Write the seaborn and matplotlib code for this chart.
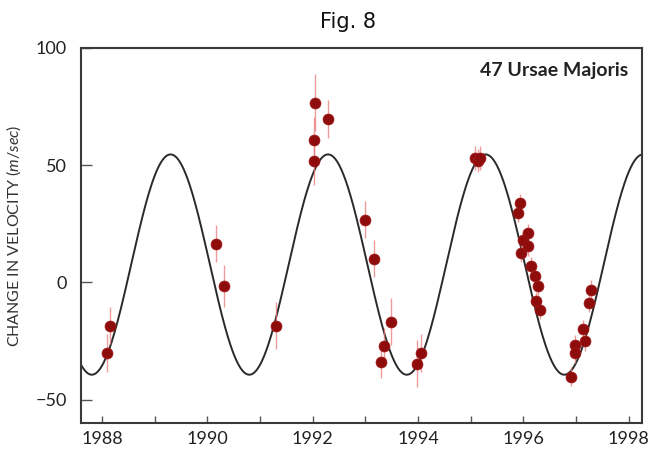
import numpy as np
import pandas as pd
import matplotlib
matplotlib.use("Agg")
import matplotlib.pyplot as plt
import seaborn as sns
from matplotlib.ticker import MultipleLocator

# ---- data ----
years = [1988.10, 1988.15, 1990.16, 1990.31, 1991.30,
         1992.04, 1992.02, 1992.02, 1992.29, 1992.99,
         1993.17, 1993.30, 1993.36, 1993.49, 1993.97, 1994.06,
         1995.08, 1995.13, 1995.18,
         1995.89, 1995.93, 1995.96, 1995.99, 1996.08, 1996.08,
         1996.15, 1996.21, 1996.24, 1996.27, 1996.31,
         1996.91, 1996.97, 1996.97, 1997.13, 1997.16, 1997.24, 1997.29]
velocity = [-30.2, -18.5, 16.5, -1.7, -18.5,
            76.7, 60.7, 51.7, 69.8, 26.8,
            10.1, -33.8, -27.3, -16.7, -34.7, -30.2,
            53.0, 52.0, 53.0,
            29.7, 33.9, 12.6, 18.2, 21.1, 15.4,
            6.8, 2.6, -8.1, -1.7, -11.7,
            -40.2, -26.6, -30.2, -19.9, -25.2, -8.8, -3.1]
errors = [8, 8, 8, 9, 10,
          12, 10, 10, 8, 8,
          8, 7, 8, 10, 10, 8,
          5, 5, 5,
          4, 4, 4, 4, 4, 4,
          4, 4, 4, 4, 4,
          4, 4, 4, 4, 4, 4, 4]

# orbital fit
fit_period = 2.99       # years
fit_amplitude = 47.0    # m/s
fit_offset = 7.6        # m/s
fit_peak_epoch = 1989.30

x_ticks = [1988, 1990, 1992, 1994, 1996, 1998]
y_ticks = [-50, 0, 50, 100]

# ---- build tables ----
df = pd.DataFrame({"year": years, "v": velocity, "err": errors})
t = np.linspace(1987.6, 1998.25, 800)
curve = pd.DataFrame({
    "year": t,
    "v": fit_offset + fit_amplitude * np.cos(2 * np.pi * (t - fit_peak_epoch) / fit_period),
})

sns.set_theme(style="white")
plt.rcParams["font.family"] = ["Lato", "DejaVu Sans"]
plt.rcParams["mathtext.fontset"] = "custom"
plt.rcParams["mathtext.rm"] = "Lato"
plt.rcParams["mathtext.it"] = "Lato:italic"

fig = plt.figure(figsize=(6.6, 4.62), dpi=100)
ax = fig.add_axes([81 / 660, 1 - 423 / 462, 561 / 660, 375 / 462])

sns.lineplot(data=curve, x="year", y="v", ax=ax, color="#2a2a2a", linewidth=1.4)
ax.errorbar(df["year"], df["v"], yerr=df["err"], fmt="none",
            ecolor="#e87a7a", elinewidth=1.0, alpha=0.75, zorder=3)
sns.scatterplot(data=df, x="year", y="v", ax=ax, color="#8e0c0c",
                s=62, edgecolor="#a01818", linewidth=0.5, zorder=4)

ax.set_xlim(1987.6, 1998.25)
ax.set_ylim(-60, 100)
ax.set_xticks(x_ticks)
ax.set_xticklabels([str(x) for x in x_ticks])
ax.xaxis.set_minor_locator(MultipleLocator(1))
ax.set_yticks(y_ticks)
ax.set_yticklabels(["\u221250" if v < 0 else str(v) for v in y_ticks])

ax.tick_params(axis="x", which="both", direction="in", length=5, width=1,
               color="#555555", labelsize=13, pad=6, labelcolor="#222222", bottom=True)
ax.tick_params(axis="y", which="major", direction="in", length=8, width=1,
               color="#555555", labelsize=13, pad=10, labelcolor="#222222", left=True)

for s in ax.spines.values():
    s.set_color("#3a3a3a")
    s.set_linewidth(1.5)

ax.set_xlabel("")
ax.set_ylabel(r"CHANGE IN VELOCITY $\mathit{(m/sec)}$", fontsize=11.5,
              color="#333333")
ax.yaxis.set_label_coords(-0.104, 0.5)

ax.text(0.975, 0.941, "47 Ursae Majoris", transform=ax.transAxes,
        ha="right", va="center", fontsize=14, fontweight="bold", color="#222222")

fig.text(348 / 660, 1 - 22 / 462, "Fig. 8", ha="center", va="center",
         fontsize=15, family="DejaVu Sans", color="#111111")

fig.savefig("out.png", dpi=100)
